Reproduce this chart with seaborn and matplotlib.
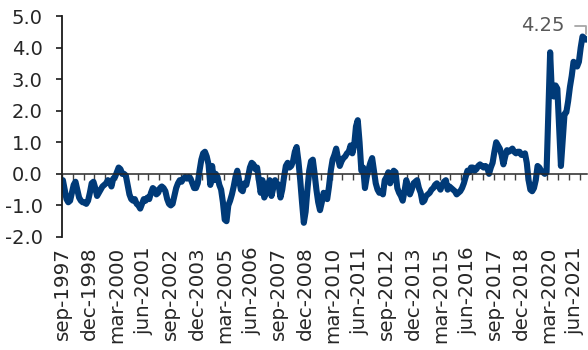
import numpy as np
import pandas as pd
import matplotlib
matplotlib.use("Agg")
import matplotlib.pyplot as plt
import seaborn as sns

# Monthly series, September 1997 through December 2021 (rows run sep..aug)
start_month = "1997-09"
values = [
    -0.2, -0.5, -0.8, -0.9, -0.85, -0.6, -0.35, -0.25, -0.5, -0.75, -0.85, -0.9,
    -0.9, -0.95, -0.85, -0.6, -0.3, -0.25, -0.45, -0.7, -0.6, -0.5, -0.4, -0.35,
    -0.3, -0.2, -0.25, -0.4, -0.15, -0.1, 0.05, 0.2, 0.15, 0.0, 0.0, -0.05,
    -0.35, -0.65, -0.8, -0.85, -0.8, -0.95, -1.0, -1.1, -0.95, -0.8, -0.85, -0.75,
    -0.8, -0.6, -0.45, -0.5, -0.65, -0.6, -0.45, -0.4, -0.45, -0.55, -0.8, -0.95,
    -1.0, -0.95, -0.7, -0.45, -0.3, -0.2, -0.25, -0.15, -0.1, -0.15, -0.1, -0.15,
    -0.3, -0.45, -0.45, -0.3, 0.1, 0.45, 0.65, 0.7, 0.55, 0.3, -0.35, 0.25,
    -0.2, 0.0, -0.1, -0.35, -0.5, -0.9, -1.45, -1.5, -1.0, -0.85, -0.65, -0.4,
    -0.1, 0.1, -0.2, -0.5, -0.55, -0.3, -0.35, -0.1, 0.2, 0.35, 0.3, 0.15,
    0.2, -0.2, -0.6, -0.2, -0.75, -0.6, -0.4, -0.2, -0.7, -0.45, -0.2, -0.3,
    -0.35, -0.75, -0.5, -0.1, 0.25, 0.35, 0.2, 0.25, 0.4, 0.7, 0.85, 0.4,
    -0.2, -0.9, -1.55, -1.2, -0.5, 0.1, 0.4, 0.45, 0.0, -0.5, -0.9, -1.15,
    -0.9, -0.6, -0.7, -0.8, -0.4, 0.1, 0.45, 0.6, 0.8, 0.5, 0.25, 0.4,
    0.5, 0.55, 0.65, 0.7, 0.9, 0.65, 0.9, 1.5, 1.7, 1.0, 0.1, 0.2,
    -0.45, -0.1, 0.15, 0.35, 0.5, 0.1, -0.3, -0.5, -0.6, -0.55, -0.65, -0.2,
    -0.1, 0.05, -0.3, -0.1, 0.1, 0.05, -0.45, -0.6, -0.7, -0.85, -0.55, -0.2,
    -0.45, -0.65, -0.5, -0.3, -0.25, -0.2, -0.45, -0.6, -0.9, -0.85, -0.7, -0.65,
    -0.6, -0.5, -0.45, -0.35, -0.3, -0.4, -0.5, -0.35, -0.25, -0.2, -0.5, -0.4,
    -0.45, -0.5, -0.55, -0.65, -0.6, -0.55, -0.45, -0.3, -0.1, 0.1, 0.05, 0.2,
    0.2, 0.1, 0.15, 0.25, 0.3, 0.25, 0.2, 0.25, 0.2, 0.0, 0.2, 0.35,
    0.7, 1.0, 0.9, 0.8, 0.6, 0.3, 0.55, 0.75, 0.7, 0.75, 0.8, 0.7,
    0.65, 0.7, 0.7, 0.6, 0.6, 0.65, 0.35, -0.2, -0.5, -0.55, -0.45, -0.2,
    0.25, 0.2, 0.1, 0.05, 0.0, 0.05, 2.0, 3.85, 2.5, 2.45, 2.8, 2.7,
    1.5, 0.25, 1.1, 1.9, 1.95, 2.3, 2.75, 3.1, 3.55, 3.5, 3.4, 3.55,
    4.0, 4.35, 4.3, 4.25,
]

tick_labels = [
    "sep-1997", "dec-1998", "mar-2000", "jun-2001", "sep-2002",
    "dec-2003", "mar-2005", "jun-2006", "sep-2007", "dec-2008",
    "mar-2010", "jun-2011", "sep-2012", "dec-2013", "mar-2015",
    "jun-2016", "sep-2017", "dec-2018", "mar-2020", "jun-2021",
]
label_every = 15   # months between labelled categories
tick_every = 6     # months between tick marks on the zero line
y_ticks = [-2.0, -1.0, 0.0, 1.0, 2.0, 3.0, 4.0, 5.0]

months = pd.date_range(start_month, periods=len(values), freq="MS")
df = pd.DataFrame({"pos": np.arange(len(values)), "month": months, "value": values})

sns.set_theme(style="white")
plt.rcParams["font.family"] = ["DejaVu Sans"]

LINE = "#003a78"
TEXT = "#262626"

fig = plt.figure(figsize=(5.88, 3.5), dpi=100)
ax = fig.add_axes([62 / 588, 1 - 237 / 350, 525 / 588, 221 / 350])

sns.lineplot(data=df, x="pos", y="value", ax=ax, color=LINE, linewidth=4.4,
             solid_joinstyle="round", solid_capstyle="round")

n = len(values)
ax.set_xlim(-0.5, n - 0.5)
ax.set_ylim(-2.0, 5.0)
ax.set_xlabel("")
ax.set_ylabel("")

# y axis
ax.set_yticks(y_ticks)
ax.set_yticklabels([f"{v:.1f}" for v in y_ticks])
ax.tick_params(axis="y", direction="out", length=4, width=1.2, color="#1a1a1a",
               pad=10, labelsize=14, labelcolor=TEXT, left=True)
ax.spines["left"].set_color("#1a1a1a")
ax.spines["left"].set_linewidth(1.3)
ax.spines["top"].set_visible(False)
ax.spines["right"].set_visible(False)

# category axis drawn through zero, tick marks between months
ax.spines["bottom"].set_position(("data", 0))
ax.spines["bottom"].set_color("#262626")
ax.spines["bottom"].set_linewidth(1.1)
ax.set_xticks(np.arange(-0.5, n, tick_every))
ax.tick_params(axis="x", direction="out", length=4.5, width=1.0, color="#404040",
               bottom=True, labelbottom=False)

# month labels placed below the plotting area
sec = ax.secondary_xaxis(0.0)
sec.set_xticks(np.arange(0, n, label_every)[:len(tick_labels)], tick_labels)
sec.tick_params(axis="x", length=0, pad=7, labelsize=14.3, labelcolor=TEXT,
                labelrotation=90)
sec.spines["bottom"].set_visible(False)

# value callout for the latest observation
ax.annotate(f"{values[-1]:.2f}", xy=(n - 1, values[-1]), xytext=(-31, 10),
            textcoords="offset points", ha="center", va="center",
            fontsize=14, color="#595959",
            arrowprops=dict(arrowstyle="-", color="#a6a6a6", lw=1.3,
                            connectionstyle="angle,angleA=0,angleB=90,rad=0",
                            shrinkA=5, shrinkB=4))

fig.savefig("out.png", dpi=100)
